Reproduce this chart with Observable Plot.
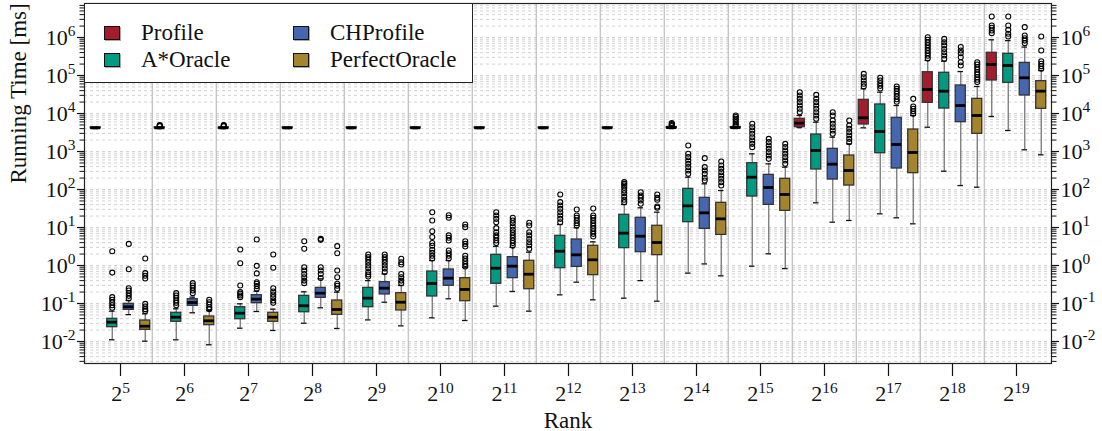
<!DOCTYPE html>
<html>
<head>
<meta charset="utf-8">
<script src="https://cdn.jsdelivr.net/npm/d3@7"></script>
<script src="https://cdn.jsdelivr.net/npm/@observablehq/plot@0.6"></script>
<style>
  html, body { margin: 0; padding: 0; background: #fff; }
  #chart { position: relative; width: 1102px; height: 431px; font-family: "Liberation Serif", "Times New Roman", "DejaVu Serif", serif; color: #111; }
  #legend { position: absolute; left: 84px; top: 3px; width: 389px; height: 80px; box-sizing: border-box;
            background: #fff; border: 1.2px solid #222; }
  #legend .item { position: absolute; display: flex; align-items: center; gap: 21px; font-size: 23px; line-height: 1;
                  font-family: "Liberation Serif", "Times New Roman", "DejaVu Serif", serif; }
  #legend .swatch { width: 16px; height: 14px; box-sizing: border-box; border: 1.4px solid #111; box-shadow: 1px 1px 0 #aaa; }
  svg text { font-family: "Liberation Serif", "Times New Roman", "DejaVu Serif", serif; }
</style>
</head>
<body>
<div id="chart"><div id="legend"></div></div>
<script>
// Ranks (x = 2^rank)
const ranks = [5, 6, 7, 8, 9, 10, 11, 12, 13, 14, 15, 16, 17, 18, 19];
const seriesNames = ["Profile", "A*Oracle", "CHProfile", "PerfectOracle"];
const seriesColors = ["#a51d2d", "#009a81", "#4766b0", "#a5842f"];
const yTickExponents = [-2, -1, 0, 1, 2, 3, 4, 5, 6];

// Running times in ms per rank: [whisker low, Q1, median, Q3, whisker high]
const profileStats = [
  [4000, 4100, 4200, 4300, 4400], [4000, 4100, 4200, 4300, 4400], [4000, 4100, 4200, 4300, 4400],
  [4000, 4100, 4200, 4300, 4400], [4000, 4100, 4200, 4300, 4400], [4000, 4100, 4200, 4300, 4400],
  [4000, 4100, 4200, 4300, 4400], [4000, 4100, 4200, 4300, 4400], [4000, 4100, 4200, 4300, 4400],
  [4000, 4100, 4250, 4400, 4600], [4000, 4150, 4250, 4400, 4600], [4250, 4360, 5570, 7250, 8860],
  [4200, 5140, 7700, 22900, 44600], [4360, 19100, 42800, 122000, 248000], [8340, 73900, 195000, 396000, 870000]
];
const astarStats = [
  [0.0111, 0.0238, 0.0323, 0.0395, 0.0628], [0.0111, 0.033, 0.0436, 0.0569, 0.0725],
  [0.0224, 0.0386, 0.0556, 0.080, 0.098], [0.0303, 0.059, 0.087, 0.159, 0.203],
  [0.037, 0.080, 0.138, 0.258, 0.40], [0.042, 0.153, 0.336, 0.695, 1.35],
  [0.085, 0.33, 0.85, 1.91, 3.2], [0.169, 0.85, 2.38, 6.04, 12],
  [0.138, 2.86, 7.1, 21.6, 40.3], [0.63, 13.8, 37.2, 104, 211],
  [0.96, 65.4, 211, 492, 869], [44.6, 336, 1062, 2800, 5910],
  [22.9, 903, 3360, 17300, 36400], [303, 13500, 38700, 118000, 238000],
  [3570, 64200, 183000, 372000, 830000]
];
const chprofileStats = [
  [0.051, 0.068, 0.082, 0.098, 0.12], [0.057, 0.087, 0.106, 0.130, 0.147],
  [0.0616, 0.102, 0.130, 0.166, 0.211], [0.077, 0.141, 0.187, 0.258, 0.446],
  [0.108, 0.173, 0.253, 0.364, 0.60], [0.133, 0.292, 0.464, 0.785, 1.35],
  [0.207, 0.464, 0.96, 1.66, 3.0], [0.364, 0.92, 1.91, 4.83, 9.8],
  [0.40, 2.24, 5.9, 18, 33], [1.1, 9.2, 24.3, 60.4, 141],
  [2.03, 39.5, 113, 243, 473], [13.8, 183, 464, 1175, 2380],
  [18, 357, 1530, 7700, 16200], [127, 5910, 16200, 54600, 127000],
  [1110, 29800, 87000, 215000, 560000]
];
const perfectStats = [
  [0.0102, 0.0203, 0.0253, 0.0357, 0.0535], [0.0082, 0.0269, 0.035, 0.0455, 0.0654],
  [0.0195, 0.033, 0.0436, 0.0569, 0.071], [0.022, 0.0504, 0.0695, 0.12, 0.199],
  [0.0258, 0.0655, 0.108, 0.187, 0.298], [0.0357, 0.115, 0.234, 0.464, 0.90],
  [0.0628, 0.238, 0.59, 1.33, 2.24], [0.125, 0.557, 1.41, 3.3, 4.2],
  [0.115, 1.87, 4.03, 11.1, 25.3], [0.535, 6.4, 16.9, 44.6, 94],
  [0.83, 27.5, 73.9, 191, 387], [15.3, 127, 316, 785, 1590],
  [12.5, 269, 942, 3790, 8860], [115, 2920, 8860, 24300, 51400],
  [819, 13300, 38700, 71000, 135000]
];

// Outliers in ms per rank
const profileOutliers = [
  [], [4600, 4800, 5000], [4600, 4800, 5000], [], [], [], [], [], [],
  [4700, 5000, 5300, 5600], [4800, 5300, 5900, 6600, 7300, 8100, 8900],
  [10800, 13300, 16200, 19900, 24300, 29800, 36400],
  [51400, 60400, 73900, 90300, 110700],
  [280000, 330000, 387000, 455000, 535000, 630000, 740000, 870000, 1020000],
  [1300000, 1530000, 1800000, 2070000, 3570000]
];
const astarOutliers = [
  [0.077, 0.090, 0.106, 0.125, 0.147, 0.65, 2.38],
  [0.09, 0.104, 0.12, 0.141, 0.162, 0.187],
  [0.147, 0.163, 0.18, 0.199, 0.298, 1.15, 2.64],
  [0.343, 0.40, 0.49, 0.60, 0.74, 0.90, 2.75, 4.36],
  [0.51, 0.58, 0.67, 0.85, 1.0, 1.2, 1.41, 1.66, 1.95],
  [1.53, 1.8, 2.15, 2.6, 3.3, 3.9, 5.6, 8.0, 15.3, 25.3],
  [3.9, 4.55, 5.35, 6.2, 7.5, 9.6, 13.8, 16.9, 20.7, 25.3],
  [13.8, 16.9, 20.7, 25.3, 31, 37.9, 46.4, 73.9],
  [46.4, 53.5, 65, 80, 94, 111, 127, 141, 156],
  [258, 316, 387, 473, 580, 710, 869, 1438],
  [1300, 1590, 1950, 2380, 2920, 3570, 4360, 5350],
  [7250, 8860, 10800, 13300, 16200, 19900, 24300, 31000],
  [45500, 53500, 62800, 73900, 86900],
  [275000, 336000, 410000, 500000, 620000, 750000, 920000],
  [1060000, 1250000, 1590000, 2070000, 3570000]
];
const chprofileOutliers = [
  [0.135, 0.159, 0.187, 0.22, 0.253, 0.80, 3.7],
  [0.187, 0.22, 0.258, 0.298, 0.343],
  [0.243, 0.286, 0.33, 0.364, 0.62, 0.98, 4.83],
  [0.47, 0.60, 0.74, 0.90, 4.73, 5.03],
  [0.67, 0.83, 1.0, 1.2, 1.41, 1.66, 1.95],
  [1.53, 1.8, 2.11, 2.48, 4.55, 5.35, 6.2, 18, 21.1],
  [3.3, 3.9, 4.55, 5.35, 6.3, 7.4, 8.7, 10.6, 13, 15.3, 18],
  [11.3, 13, 15.3, 18, 20.7, 29.8],
  [42, 51.4, 60.4, 69.5, 85],
  [172, 203, 258, 316, 387, 668],
  [641, 785, 960, 1175, 1440, 1760, 2150],
  [2920, 3570, 4360, 5350, 6550, 8860, 10800],
  [20300, 23800, 28000, 33000, 38700, 44600, 51400],
  [183000, 224000, 303000, 387000, 455000, 560000],
  [710000, 830000, 960000, 1130000, 1870000]
];
const perfectOutliers = [
  [0.063, 0.071, 0.083, 0.098, 0.455, 0.535, 0.63, 1.53],
  [0.071, 0.080, 0.094, 0.108, 0.125],
  [0.104, 0.12, 0.147, 0.173, 0.207, 0.253, 0.87, 1.95],
  [0.243, 0.292, 0.33, 0.49, 0.74, 2.11, 3.23],
  [0.343, 0.40, 0.49, 0.60, 1.06, 1.22, 1.5],
  [0.94, 1.1, 1.3, 1.53, 1.8, 3.16, 3.7, 4.36, 10.2, 12],
  [2.75, 3.4, 4.1, 5.0, 6.2, 7.5, 11.3, 13.3],
  [5.8, 6.8, 8.0, 9.4, 11.1, 13, 15.3, 18, 20.7, 31.6],
  [33, 35.7, 53.5, 60.4, 74],
  [127, 156, 191, 234, 286, 350, 428, 546],
  [473, 580, 710, 869, 1062, 1300, 1590],
  [1760, 2150, 2640, 3230, 3950, 4830, 6550],
  [9800, 11500, 13300, 15300, 24300],
  [67000, 77000, 90000, 106000, 122000, 144000, 166000, 195000, 224000],
  [150000, 176000, 203000, 238000, 455000, 1060000]
];

const statsBySeries = [profileStats, astarStats, chprofileStats, perfectStats];
const outliersBySeries = [profileOutliers, astarOutliers, chprofileOutliers, perfectOutliers];

// Layout
const W = 1102, H = 431;
const margin = {top: 3, right: 51, bottom: 68, left: 84};
const bandW = (W - margin.left - margin.right) / ranks.length;
const slot = 16.5, boxW = 10.5, capW = 6;
const yDomain = [0.002636, 7.85e6];
const serif = '"Liberation Serif", "Times New Roman", "DejaVu Serif", serif';

// Dashed horizontal grid at every 1..9 x 10^k inside the domain
const gridValues = [];
for (let k = -3; k <= 6; k++) for (let d = 1; d <= 9; d++) {
  const v = d * Math.pow(10, k);
  if (v >= yDomain[0] && v <= yDomain[1]) gridValues.push(v);
}
const majorValues = yTickExponents.map(e => Math.pow(10, e));
const minorValues = gridValues.filter(v => !majorValues.some(m => Math.abs(m - v) / m < 1e-9));

const fmtY = v => `10^${Math.round(Math.log10(v))}`;

const marks = [
  Plot.ruleY(gridValues, {stroke: "#d2d2d2", strokeWidth: 1, strokeDasharray: "3,3"}),
  Plot.ruleX(ranks.slice(1), {dx: -bandW / 2, stroke: "#bdbdbd", strokeWidth: 1.2})
];

statsBySeries.forEach((stats, i) => {
  const o = (i - 1.5) * slot;
  const rows = stats.map(([lo, q1, med, q3, hi], j) => ({rank: ranks[j], lo, q1, med, q3, hi}));
  const outs = outliersBySeries[i].flatMap((vals, j) => vals.map(v => ({rank: ranks[j], v})));
  const inset = w => ({insetLeft: bandW / 2 + o - w / 2, insetRight: bandW / 2 - o - w / 2});
  marks.push(
    Plot.ruleX(rows, {x: "rank", y1: "lo", y2: "q1", dx: o, stroke: "#777", strokeWidth: 1.3}),
    Plot.ruleX(rows, {x: "rank", y1: "q3", y2: "hi", dx: o, stroke: "#777", strokeWidth: 1.3}),
    Plot.tickY(rows, {x: "rank", y: "lo", ...inset(capW), stroke: "#111", strokeWidth: 1.3}),
    Plot.tickY(rows, {x: "rank", y: "hi", ...inset(capW), stroke: "#111", strokeWidth: 1.3}),
    Plot.barY(rows, {x: "rank", y1: "q1", y2: "q3", ...inset(boxW), fill: seriesColors[i], stroke: "#333", strokeWidth: 1.3}),
    Plot.tickY(rows, {x: "rank", y: "med", ...inset(boxW), stroke: "#000", strokeWidth: 2.8}),
    Plot.dot(outs, {x: "rank", y: "v", dx: o, r: 2.5, stroke: "#000", strokeWidth: 1.1, fill: "none"})
  );
});

marks.push(
  Plot.frame({stroke: "#222", strokeWidth: 1.2}),
  Plot.axisX({ticks: ranks, tickSize: 13, tickPadding: 9, tickFormat: r => `2^${r}`, label: null, strokeWidth: 1.2, fill: "#111", fontFamily: serif}),
  Plot.axisY({anchor: "left", ticks: minorValues, tickSize: 4.5, tickFormat: () => "", label: null, strokeWidth: 1}),
  Plot.axisY({anchor: "right", ticks: minorValues, tickSize: 4.5, tickFormat: () => "", label: null, strokeWidth: 1}),
  Plot.axisY({anchor: "left", ticks: majorValues, tickSize: 7, tickPadding: 2, tickFormat: fmtY, label: null, strokeWidth: 1.2, fill: "#111", fontFamily: serif}),
  Plot.axisY({anchor: "right", ticks: majorValues, tickSize: 7, tickPadding: 2, tickFormat: fmtY, label: null, strokeWidth: 1.2, fill: "#111", fontFamily: serif}),
  Plot.text(["Rank"], {frameAnchor: "bottom", dy: 64, fontSize: 23, fill: "#111", fontFamily: serif}),
  Plot.text(["Running Time [ms]"], {frameAnchor: "left", rotate: -90, dx: -66, fontSize: 23, fill: "#111", fontFamily: serif})
);

const svg = Plot.plot({
  width: W, height: H,
  marginTop: margin.top, marginRight: margin.right, marginBottom: margin.bottom, marginLeft: margin.left,
  style: {fontFamily: serif, fontSize: "22px", background: "#fff", color: "#111", overflow: "visible"},
  x: {type: "band", domain: ranks, padding: 0},
  y: {type: "log", domain: yDomain},
  marks
});

// Typeset exponents ("2^10", "10^-2") as raised, smaller text
d3.select(svg).selectAll("text").each(function () {
  const m = /^(\d+)\^(-?\d+)$/.exec(this.textContent);
  if (!m) return;
  const el = d3.select(this);
  el.text(null);
  el.append("tspan").text(m[1]);
  el.append("tspan").attr("font-size", "0.7em").attr("dy", "-0.55em").text(m[2]);
});

const chart = document.getElementById("chart");
chart.insertBefore(svg, chart.firstChild);

// Legend: two columns, two rows
const legend = d3.select("#legend");
seriesNames.forEach((name, i) => {
  const col = Math.floor(i / 2), row = i % 2;
  const item = legend.append("div").attr("class", "item")
    .style("left", `${19 + col * 189}px`).style("top", `${17 + row * 27}px`);
  item.append("div").attr("class", "swatch").style("background", seriesColors[i]);
  item.append("span").text(name);
});
</script>
</body>
</html>
